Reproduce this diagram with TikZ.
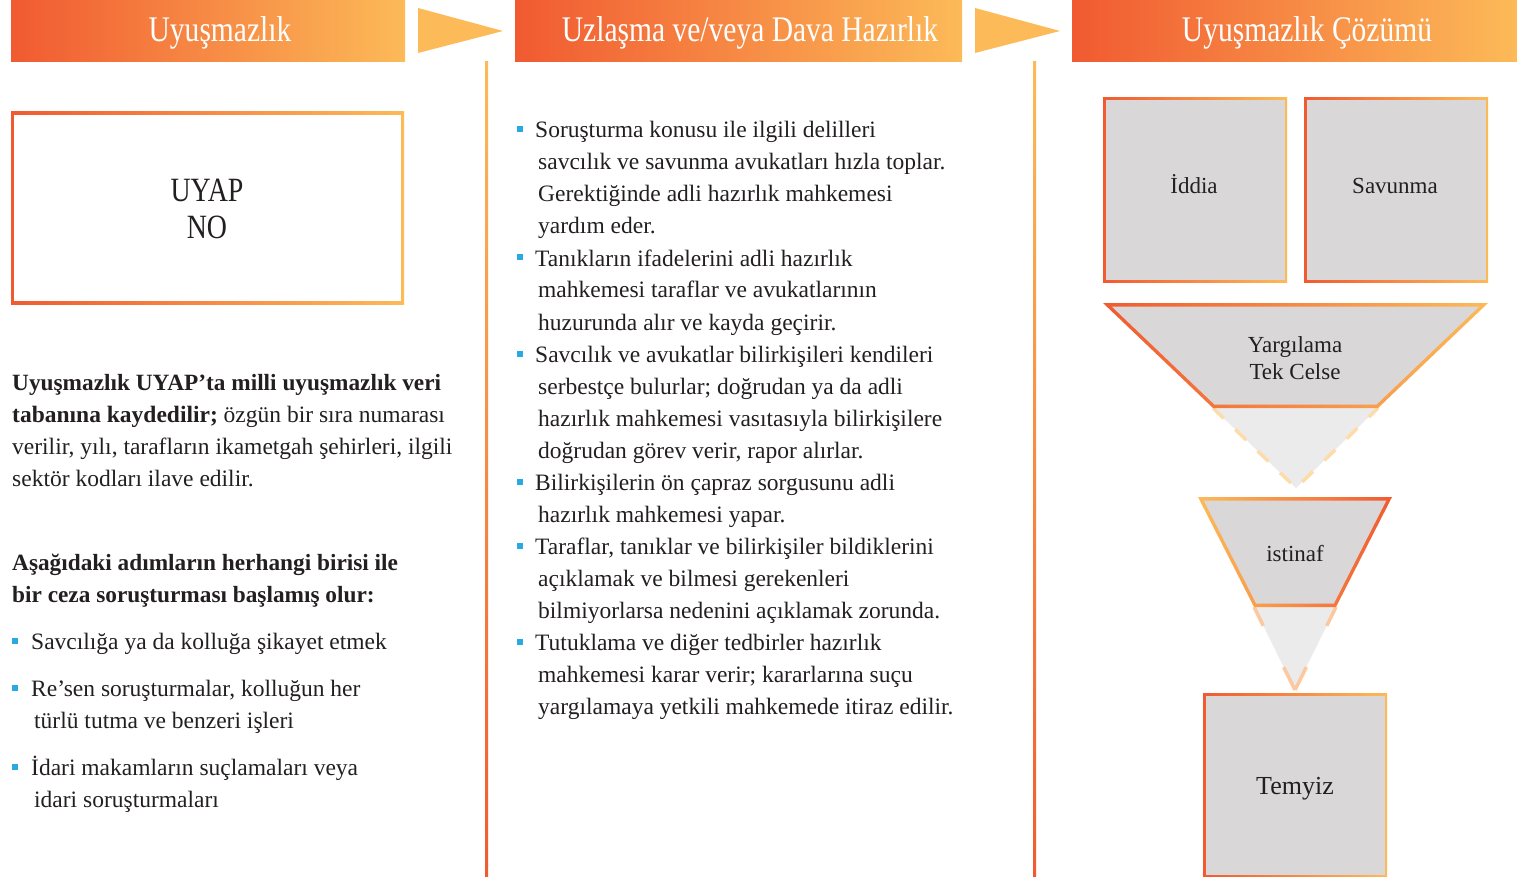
\documentclass[tikz,border=0pt]{standalone}
\usepackage{fontspec}
\setmainfont{Liberation Serif}
\definecolor{dko}{RGB}{241,90,49}
\definecolor{lto}{RGB}{252,186,88}
\definecolor{boxg}{RGB}{217,215,216}
\definecolor{lightg}{RGB}{235,235,235}
\definecolor{dashc}{RGB}{253,220,170}
\definecolor{dashp}{RGB}{252,200,160}
\definecolor{bul}{RGB}{41,169,225}
\definecolor{ink}{RGB}{35,31,32}
\newcommand{\narrowtxt}[2]{\scalebox{#1}[1]{#2}}
\begin{document}
\begin{tikzpicture}[x=1pt,y=-1pt,
  body/.style={anchor=base west, inner sep=0pt, text=ink, font=\fontsize{23.5}{32}\selectfont},
  boldbody/.style={body, font=\fontsize{23.3}{32}\selectfont\bfseries},
  title/.style={anchor=base, inner sep=0pt, text=white, font=\fontsize{36}{40}\selectfont},
  boxtext/.style={anchor=base, inner sep=0pt, text=ink, font=\fontsize{23}{27}\selectfont, align=center},
  bigtext/.style={anchor=base, inner sep=0pt, text=ink, font=\fontsize{34}{37}\selectfont},
  bulletsq/.style={fill=bul},
  arrowtri/.style={fill=lto}
]
\useasboundingbox (0,0) rectangle (1517,877);

% headers
\shade[left color=dko, right color=lto] (11,0) rectangle (405,62);
\node[title] (h1) at (220,42) {\narrowtxt{0.82}{Uyuşmazlık}};
\fill[arrowtri] (418,8) -- (503,31) -- (418,53) -- cycle;
\shade[left color=dko, right color=lto] (515,0) rectangle (962,62);
\node[title] (h2) at (750,42) {\narrowtxt{0.82}{Uzlaşma ve/veya Dava Hazırlık}};
\fill[arrowtri] (975,8) -- (1060,31) -- (975,53) -- cycle;
\shade[left color=dko, right color=lto] (1072,0) rectangle (1517,62);
\node[title] (h3) at (1307,42) {\narrowtxt{0.82}{Uyuşmazlık Çözümü}};

% vertical separators
\shade[top color=lto, bottom color=dko] (485,62) rectangle (488,877);
\shade[top color=lto, bottom color=dko] (1033,62) rectangle (1036,877);

% UYAP box
\shade[left color=dko, right color=lto] (11,112) rectangle (404,304);
\fill[white] (14,115) rectangle (401,301);
\node[bigtext] (uyap1) at (207,202) {\narrowtxt{0.82}{UYAP}};
\node[bigtext] (uyap2) at (207,239) {\narrowtxt{0.82}{NO}};

% left text
\node[boldbody] (l1) at (12,390) {Uyuşmazlık UYAP’ta milli uyuşmazlık veri};
\node[body] (l2) at (12,422) {\textbf{tabanına kaydedilir;} özgün bir sıra numarası};
\node[body] (l3) at (12,454) {verilir, yılı, tarafların ikametgah şehirleri, ilgili};
\node[body] (l4) at (12,486) {sektör kodları ilave edilir.};
\node[boldbody] (l5) at (12,570) {Aşağıdaki adımların herhangi birisi ile};
\node[boldbody] (l6) at (12,602) {bir ceza soruşturması başlamış olur:};
\foreach \yy in {641,688,767} \fill[bulletsq] (12,\yy-3) rectangle (18,\yy+3);
\node[body] (lb1) at (31,649) {Savcılığa ya da kolluğa şikayet etmek};
\node[body] (lb2) at (31,696) {Re’sen soruşturmalar, kolluğun her};
\node[body] (lb3) at (34,728) {türlü tutma ve benzeri işleri};
\node[body] (lb4) at (31,775) {İdari makamların suçlamaları veya};
\node[body] (lb5) at (34,807) {idari soruşturmaları};

% middle text
\foreach \yy in {138,266,362,490,554,650} \fill[bulletsq] (516.5,\yy-11.5) rectangle (522.5,\yy-5.5);
\foreach \yy/\xx/\txt [count=\i] in {
 138/535/{Soruşturma konusu ile ilgili delilleri},
 170/538/{savcılık ve savunma avukatları hızla toplar.},
 202/538/{Gerektiğinde adli hazırlık mahkemesi},
 234/538/{yardım eder.},
 266/535/{Tanıkların ifadelerini adli hazırlık},
 298/538/{mahkemesi taraflar ve avukatlarının},
 330/538/{huzurunda alır ve kayda geçirir.},
 362/535/{Savcılık ve avukatlar bilirkişileri kendileri},
 394/538/{serbestçe bulurlar; doğrudan ya da adli},
 426/538/{hazırlık mahkemesi vasıtasıyla bilirkişilere},
 458/538/{doğrudan görev verir, rapor alırlar.},
 490/535/{Bilirkişilerin ön çapraz sorgusunu adli},
 522/538/{hazırlık mahkemesi yapar.},
 554/535/{Taraflar, tanıklar ve bilirkişiler bildiklerini},
 586/538/{açıklamak ve bilmesi gerekenleri},
 618/538/{bilmiyorlarsa nedenini açıklamak zorunda.},
 650/535/{Tutuklama ve diğer tedbirler hazırlık},
 682/538/{mahkemesi karar verir; kararlarına suçu},
 714/538/{yargılamaya yetkili mahkemede itiraz edilir.}}
  \node[body] (m\i) at (\xx,\yy) {\txt};

% right: Iddia / Savunma
\shade[left color=dko, right color=lto] (1103,98) rectangle (1287,282);
\fill[boxg] (1105.5,100.5) rectangle (1284.5,279.5);
\node[boxtext] (iddia) at (1194,194) {İddia};
\shade[left color=dko, right color=lto] (1304,98) rectangle (1488,282);
\fill[boxg] (1306.5,100.5) rectangle (1485.5,279.5);
\node[boxtext] (savunma) at (1395,194) {Savunma};

% Yargilama funnel
\fill[lightg] (1213,408) -- (1378,408) -- (1296,488) -- cycle;
\draw[dashc, line width=3.5pt, dash pattern=on 15pt off 16pt] (1213,408) -- (1296,488) -- (1378,408);
\shade[left color=dko, right color=lto] (1103,303) -- (1488,303) -- (1378,408) -- (1213,408) -- cycle;
\fill[boxg] (1111.7,306.5) -- (1479.3,306.5) -- (1376.6,404.5) -- (1214.4,404.5) -- cycle;
\node[boxtext] (yarg1) at (1295,352) {Yargılama};
\node[boxtext] (yarg2) at (1295,379) {Tek Celse};

% istinaf funnel
\fill[lightg] (1254,607) -- (1336,607) -- (1295,690) -- cycle;
\draw[dashp, line width=3.5pt, dash pattern=on 21pt off 46pt on 30pt] (1254,607) -- (1295,690);
\draw[dashp, line width=3.5pt, dash pattern=on 21pt off 46pt on 30pt] (1336,607) -- (1295,690);
\shade[left color=lto, right color=dko] (1198,497) -- (1392,497) -- (1336,607) -- (1254,607) -- cycle;
\fill[boxg] (1203.7,500.5) -- (1386.3,500.5) -- (1333.9,603.5) -- (1256.1,603.5) -- cycle;
\node[boxtext] (istinaf) at (1295,561) {istinaf};

% Temyiz
\shade[left color=dko, right color=lto] (1203,693) rectangle (1387,877);
\fill[boxg] (1205.5,695.5) rectangle (1384.5,874.5);
\node[boxtext, font=\fontsize{26}{30}\selectfont] (temyiz) at (1295,794) {Temyiz};
\end{tikzpicture}
\end{document}
